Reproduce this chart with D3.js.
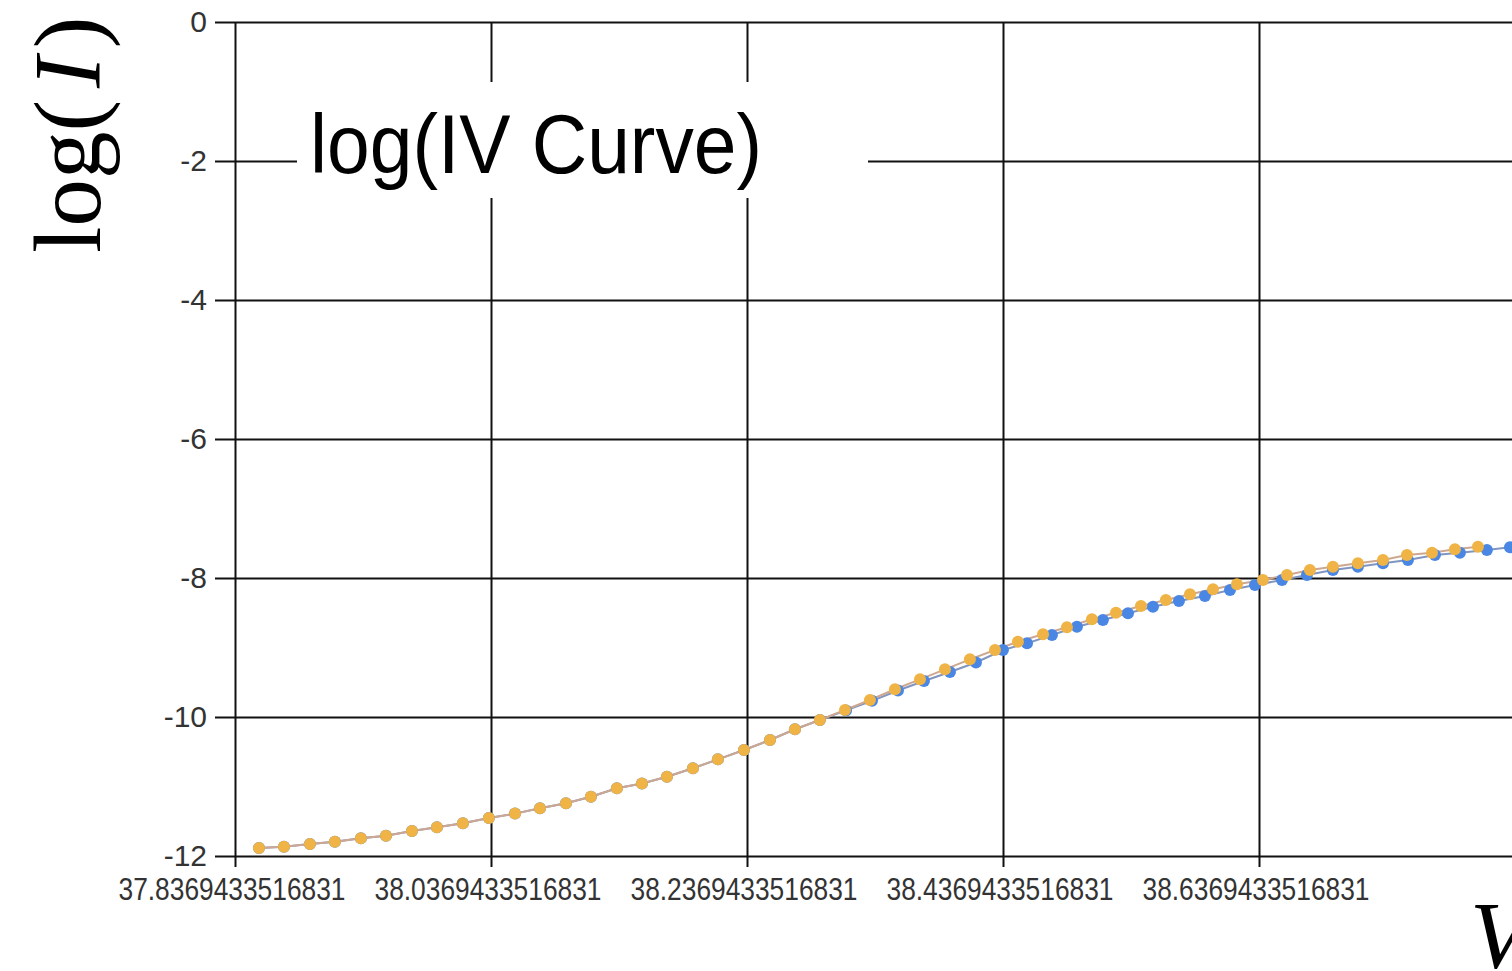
<!DOCTYPE html>
<html>
<head>
<meta charset="utf-8">
<script src="https://cdn.jsdelivr.net/npm/d3@7"></script>
<style>
  body { margin: 0; background: #fff; }
  svg { display: block; }
</style>
</head>
<body>
<div id="chart"></div>
<script>
// orange series (fit) - voltage and log(I)
var fitVoltage = [37.8557, 37.8752, 37.8955, 37.9150, 37.9353, 37.9549, 37.9752, 37.9947, 38.0150, 38.0353,
  38.0557, 38.0752, 38.0955, 38.1150, 38.1353, 38.1549, 38.1744, 38.1947, 38.2142, 38.2346,
  38.2549, 38.2744, 38.2939, 38.3135, 38.3330, 38.3525, 38.3721, 38.3916, 38.4111, 38.4307,
  38.4486, 38.4682, 38.4869, 38.5064, 38.5252, 38.5447, 38.5642, 38.5830, 38.6010, 38.6197,
  38.6400, 38.6588, 38.6767, 38.6947, 38.7142, 38.7338, 38.7525, 38.7721, 38.7900, 38.8080];
var fitLogI = [-11.885, -11.866, -11.827, -11.794, -11.745, -11.708, -11.640, -11.587, -11.529, -11.452,
  -11.390, -11.314, -11.242, -11.147, -11.025, -10.957, -10.859, -10.738, -10.609, -10.475,
  -10.331, -10.177, -10.043, -9.899, -9.755, -9.601, -9.458, -9.314, -9.170, -9.036,
  -8.917, -8.810, -8.709, -8.594, -8.499, -8.403, -8.317, -8.235, -8.163, -8.091,
  -8.029, -7.957, -7.885, -7.837, -7.788, -7.741, -7.669, -7.636, -7.587, -7.550];

// blue series (measured)
var measVoltage = [37.8557, 37.8752, 37.8955, 37.9150, 37.9353, 37.9549, 37.9752, 37.9947, 38.0150, 38.0353,
  38.0557, 38.0752, 38.0955, 38.1150, 38.1353, 38.1549, 38.1744, 38.1947, 38.2142, 38.2346,
  38.2549, 38.2744, 38.2939, 38.3143, 38.3346, 38.3549, 38.3752, 38.3955, 38.4158, 38.4369,
  38.4557, 38.4752, 38.4947, 38.5150, 38.5346, 38.5541, 38.5744, 38.5947, 38.6143, 38.6338,
  38.6549, 38.6744, 38.6947, 38.7142, 38.7338, 38.7533, 38.7744, 38.7939, 38.8150, 38.8330];
var measLogI = [-11.885, -11.866, -11.827, -11.794, -11.745, -11.708, -11.640, -11.587, -11.529, -11.452,
  -11.390, -11.314, -11.242, -11.147, -11.025, -10.957, -10.859, -10.738, -10.609, -10.475,
  -10.331, -10.177, -10.043, -9.905, -9.767, -9.619, -9.482, -9.353, -9.216, -9.036,
  -8.940, -8.820, -8.701, -8.604, -8.508, -8.413, -8.331, -8.259, -8.173, -8.101,
  -8.029, -7.957, -7.885, -7.837, -7.788, -7.741, -7.669, -7.636, -7.597, -7.558];

var yTicks = [0, -2, -4, -6, -8, -10, -12];
var xTicks = [37.8369433516831, 38.0369433516831, 38.2369433516831, 38.4369433516831, 38.6369433516831];
var xTickLabels = ["37.8369433516831", "38.0369433516831", "38.2369433516831", "38.4369433516831", "38.6369433516831"];

var svgWidth = 1512;
var svgHeight = 971;
var plotLeft = 235, plotTop = 22, plotBottom = 856;

var svg = d3.select("#chart")
  .append("svg")
  .attr("width", svgWidth)
  .attr("height", svgHeight);

// 0.2 V per 256px, the plot runs past the right edge
var x = d3.scaleLinear()
  .domain([37.8369433516831, 38.8369433516831])
  .range([plotLeft, plotLeft + 1280]);

var y = d3.scaleLinear()
  .domain([-12, 0])
  .range([plotBottom, plotTop]);

// y axis + horizontal grid
var yAxis = svg.append("g")
  .attr("transform", `translate(${plotLeft},0)`)
  .call(d3.axisLeft(y).tickValues(yTicks).tickSize(20).tickPadding(8).tickFormat(d => String(d)));
yAxis.select(".domain").remove();
yAxis.selectAll(".tick line")
  .attr("x1", -20)
  .attr("x2", svgWidth - plotLeft)
  .attr("stroke", "#111")
  .attr("stroke-width", 2);
yAxis.selectAll("text")
  .attr("font-family", "'Liberation Sans', Arial, sans-serif")
  .attr("font-size", 30)
  .attr("fill", "#333");

// x axis + vertical grid
var xAxis = svg.append("g")
  .attr("transform", `translate(0,${plotBottom})`)
  .call(d3.axisBottom(x).tickValues(xTicks).tickSize(11).tickPadding(11).tickFormat((d, i) => xTickLabels[i]));
xAxis.select(".domain").remove();
xAxis.selectAll(".tick line")
  .attr("y1", -(plotBottom - plotTop))
  .attr("stroke", "#111")
  .attr("stroke-width", 2);
xAxis.selectAll("text")
  .attr("font-family", "'Liberation Sans', Arial, sans-serif")
  .attr("font-size", 31)
  .attr("fill", "#333")
  .attr("dx", -3.5)
  .attr("textLength", 227)
  .attr("lengthAdjust", "spacingAndGlyphs");

// title on a white box
svg.append("rect")
  .attr("x", 297)
  .attr("y", 82)
  .attr("width", 571)
  .attr("height", 116)
  .attr("fill", "#fff");

svg.append("text")
  .attr("x", 310)
  .attr("y", 173)
  .attr("font-family", "'Liberation Sans', Arial, sans-serif")
  .attr("font-size", 83)
  .attr("textLength", 452)
  .attr("lengthAdjust", "spacingAndGlyphs")
  .attr("fill", "#000")
  .text("log(IV Curve)");

// axis titles
var yTitle = svg.append("text")
  .attr("transform", "translate(100,253) rotate(-90)")
  .attr("font-family", "'Liberation Serif', 'Times New Roman', serif")
  .attr("font-size", 95)
  .attr("fill", "#000");
yTitle.append("tspan").text("log(");
yTitle.append("tspan").attr("dx", 12).attr("font-style", "italic").text("I");
yTitle.append("tspan").attr("dx", 8).text(")");

svg.append("text")
  .attr("x", 1470)
  .attr("y", 968)
  .attr("font-family", "'Liberation Serif', 'Times New Roman', serif")
  .attr("font-size", 95)
  .attr("font-style", "italic")
  .attr("fill", "#000")
  .text("V");

// series
var measData = measVoltage.map((v, i) => ({ v: v, logI: measLogI[i] }));
var fitData = fitVoltage.map((v, i) => ({ v: v, logI: fitLogI[i] }));

var line = d3.line()
  .x(d => x(d.v))
  .y(d => y(d.logI));

svg.append("path")
  .datum(measData)
  .attr("d", line)
  .attr("fill", "none")
  .attr("stroke", "#8095c0")
  .attr("stroke-width", 2);

svg.append("path")
  .datum(fitData)
  .attr("d", line)
  .attr("fill", "none")
  .attr("stroke", "#cda791")
  .attr("stroke-width", 2);

svg.append("g").selectAll("circle")
  .data(measData)
  .enter()
  .append("circle")
  .attr("cx", d => x(d.v))
  .attr("cy", d => y(d.logI))
  .attr("r", 6)
  .attr("fill", "#4a87e4");

svg.append("g").selectAll("circle")
  .data(fitData)
  .enter()
  .append("circle")
  .attr("cx", d => x(d.v))
  .attr("cy", d => y(d.logI))
  .attr("r", 6)
  .attr("fill", "#f0b345");
</script>
</body>
</html>
